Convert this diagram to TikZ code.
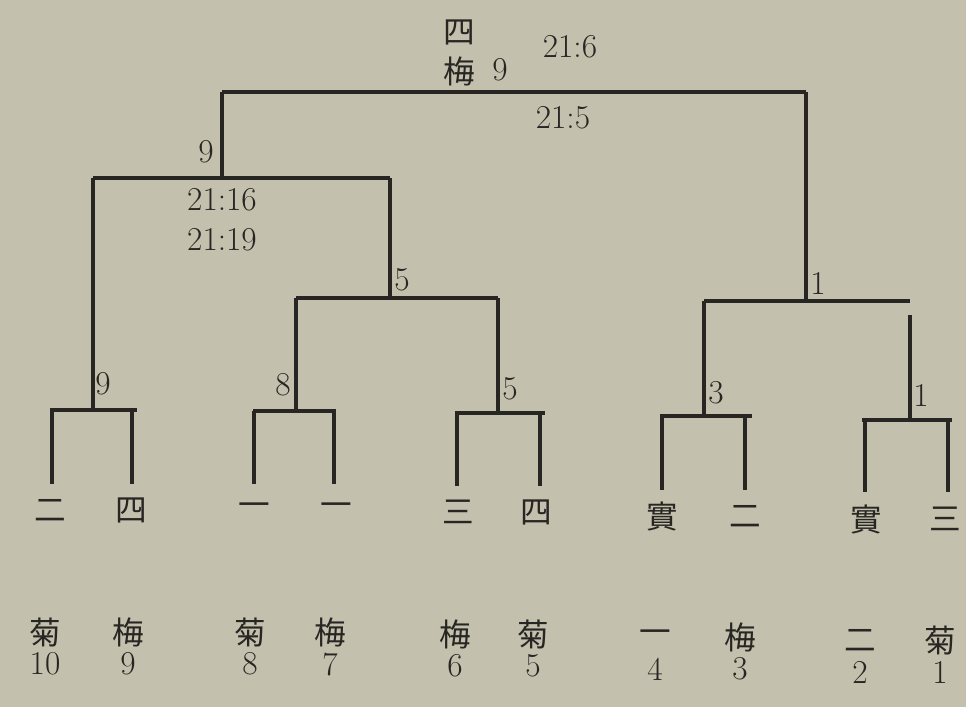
\documentclass[tikz,border=0pt]{standalone}
\usepackage{fontspec}
\newfontfamily\cjk{Noto Sans CJK JP}
\definecolor{paper}{RGB}{196,192,174}
\definecolor{ink}{RGB}{40,38,34}
\begin{document}
\begin{tikzpicture}[x=0.02cm,y=-0.02cm,
  bar/.style={draw=ink,line width=2pt},
  num/.style={text=ink,inner sep=0pt,font=\fontsize{19}{19}\selectfont},
  kan/.style={text=ink,inner sep=0pt,font=\cjk\fontsize{18}{18}\selectfont}]
\fill[paper] (0,0) rectangle (966,707);
\useasboundingbox (0,0) rectangle (966,707);
% bracket coordinates
\coordinate (T1) at (222,92);  \coordinate (T2) at (806,92);
\coordinate (A1) at (93,178);  \coordinate (A2) at (390,178);
\coordinate (Am) at (222,178);
\coordinate (B1) at (296,298); \coordinate (B2) at (498,298);
\coordinate (Bm) at (390,298);
\coordinate (C1) at (704,301); \coordinate (C2) at (910,301);
\coordinate (Cm) at (806,301); \coordinate (C2s) at (910,315);
% leaf bars
\coordinate (P1a) at (50,410);  \coordinate (P1b) at (137,410);
\coordinate (P2a) at (253,411); \coordinate (P2b) at (336,411);
\coordinate (P3a) at (455,413); \coordinate (P3b) at (545,413);
\coordinate (P4a) at (660,416); \coordinate (P4b) at (752,416);
\coordinate (P5a) at (862,420); \coordinate (P5b) at (952,420);
% junctions
\coordinate (J1) at (93,410);  \coordinate (J2) at (296,411);
\coordinate (J3) at (498,413); \coordinate (J4) at (704,416);
\coordinate (J5) at (910,420);
% leaf feet
\coordinate (L1a) at (52,484);  \coordinate (L1b) at (132,484);
\coordinate (L2a) at (254,484); \coordinate (L2b) at (334,484);
\coordinate (L3a) at (457,486); \coordinate (L3b) at (540,486);
\coordinate (L4a) at (662,490); \coordinate (L4b) at (745,490);
\coordinate (L5a) at (865,492); \coordinate (L5b) at (948,492);
% draw the tree
\draw[bar] (T1) -- (T2);
\draw[bar] (T1) -- (Am);
\draw[bar] (T2) -- (Cm);
\draw[bar] (A1) -- (A2);
\draw[bar] (A2) -- (Bm);
\draw[bar] (A1) -- (J1);
\draw[bar] (B1) -- (B2);
\draw[bar] (B1) -- (J2);
\draw[bar] (B2) -- (J3);
\draw[bar] (C1) -- (C2);
\draw[bar] (C1) -- (J4);
\draw[bar] (C2s) -- (J5);
\draw[bar] (P1a) -- (P1b); \draw[bar] (L1a |- P1a) -- (L1a); \draw[bar] (L1b |- P1a) -- (L1b);
\draw[bar] (P2a) -- (P2b); \draw[bar] (L2a |- P2a) -- (L2a); \draw[bar] (L2b |- P2a) -- (L2b);
\draw[bar] (P3a) -- (P3b); \draw[bar] (L3a |- P3a) -- (L3a); \draw[bar] (L3b |- P3a) -- (L3b);
\draw[bar] (P4a) -- (P4b); \draw[bar] (L4a |- P4a) -- (L4a); \draw[bar] (L4b |- P4a) -- (L4b);
\draw[bar] (P5a) -- (P5b); \draw[bar] (L5a |- P5a) -- (L5a); \draw[bar] (L5b |- P5a) -- (L5b);
% top labels
\node[kan] (tk1) at (459,32) {四};
\node[kan] (tk2) at (459,71) {梅};
\node[num] (tn) at (500,70) {9};
\node[num] (s1) at (570,47) {21:6};
\node[num] (s2) at (563,118) {21:5};
\node[num] (s3) at (222,200) {21:16};
\node[num] (s4) at (222,240) {21:19};
% round numbers
\node[num] (n1) at (206,152) {9};
\node[num] (n2) at (402,280) {5};
\node[num] (n3) at (818,283) {1};
\node[num] (n4) at (103,384) {9};
\node[num] (n5) at (283,385) {8};
\node[num] (n6) at (510,389) {5};
\node[num] (n7) at (716,393) {3};
\node[num] (n8) at (921,395) {1};
% grade labels
\node[kan] (g1) at (50,510) {二};
\node[kan] (g2) at (131,510) {四};
\node[kan] (g3) at (254,510) {一};
\node[kan] (g4) at (336,510) {一};
\node[kan] (g5) at (458,512) {三};
\node[kan] (g6) at (536,512) {四};
\node[kan] (g7) at (662,516) {實};
\node[kan] (g8) at (745,516) {二};
\node[kan] (g9) at (866,519) {實};
\node[kan] (g10) at (945,519) {三};
% team labels
\node[kan] (k1) at (45,632) {菊};   \node[num] (m1) at (45,664) {10};
\node[kan] (k2) at (128,632) {梅};  \node[num] (m2) at (128,664) {9};
\node[kan] (k3) at (250,632) {菊};  \node[num] (m3) at (250,664) {8};
\node[kan] (k4) at (330,632) {梅};  \node[num] (m4) at (330,664) {7};
\node[kan] (k5) at (455,634) {梅};  \node[num] (m5) at (455,666) {6};
\node[kan] (k6) at (533,634) {菊};  \node[num] (m6) at (533,666) {5};
\node[kan] (k7) at (655,637) {一};  \node[num] (m7) at (655,669) {4};
\node[kan] (k8) at (740,637) {梅};  \node[num] (m8) at (740,669) {3};
\node[kan] (k9) at (860,640) {二};  \node[num] (m9) at (860,672) {2};
\node[kan] (k10) at (940,640) {菊}; \node[num] (m10) at (940,672) {1};
\end{tikzpicture}
\end{document}
